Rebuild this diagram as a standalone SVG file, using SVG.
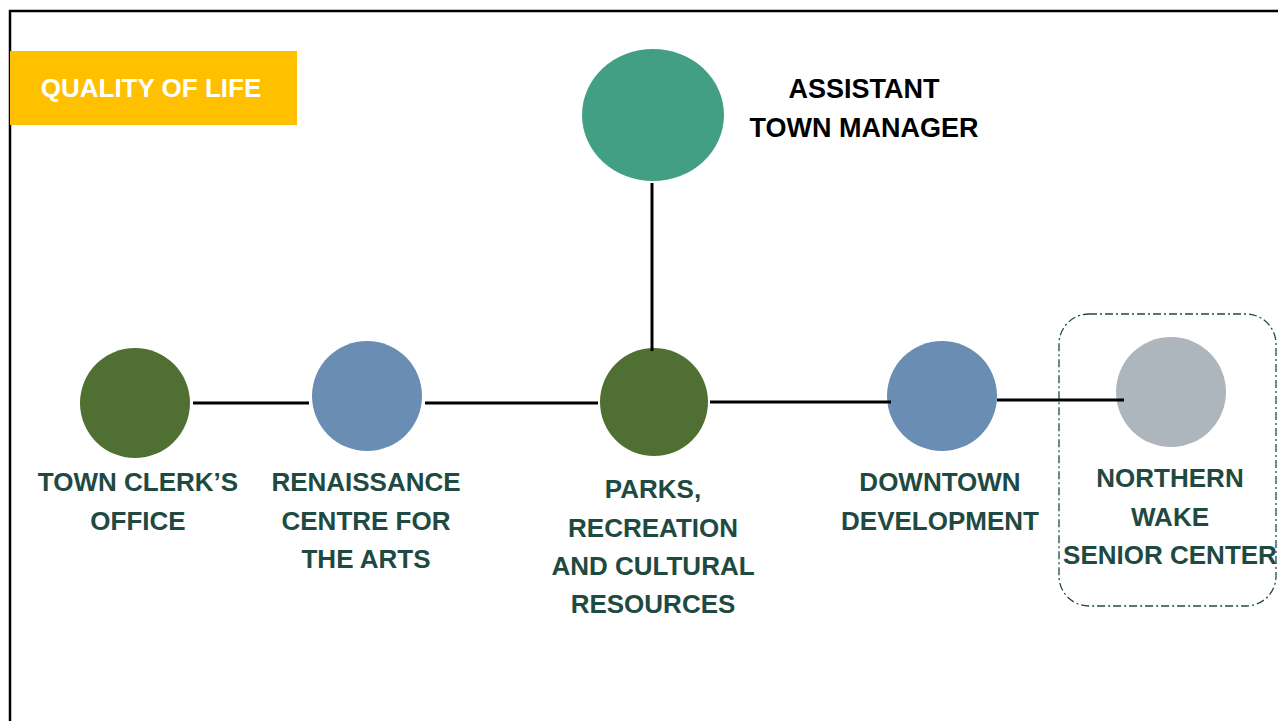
<svg xmlns="http://www.w3.org/2000/svg" width="1278" height="721" viewBox="0 0 1278 721">
<style>
.lbl{font-family:"Liberation Sans",Arial,sans-serif;font-weight:bold;font-size:26px;fill:#1F4A42;text-anchor:middle}
.conn{stroke:#000;stroke-width:3;fill:none}
</style>
<rect width="1278" height="721" fill="#fff"/>
<path d="M10 721 V11 H1278" fill="none" stroke="#000" stroke-width="2.5"/>
<g id="title">
<rect x="10" y="51" width="287" height="74" fill="#FFC000"/>
<text x="151" y="97" class="lbl" style="fill:#fff">QUALITY OF LIFE</text>
</g>
<g id="assistant">
<ellipse cx="653" cy="115" rx="71" ry="66" fill="#439F84"/>
<text class="lbl" style="fill:#000;font-size:27px"><tspan x="864" y="98">ASSISTANT</tspan><tspan x="864" y="137">TOWN MANAGER</tspan></text>
</g>
<g id="clerk">
<circle cx="135" cy="403" r="55" fill="#507033"/>
<text class="lbl"><tspan x="138" y="491">TOWN CLERK’S</tspan><tspan x="138" y="530">OFFICE</tspan></text>
</g>
<g id="renaissance">
<circle cx="367" cy="396" r="55" fill="#6A8DB3"/>
<text class="lbl"><tspan x="366" y="491">RENAISSANCE</tspan><tspan x="366" y="530">CENTRE FOR</tspan><tspan x="366" y="568">THE ARTS</tspan></text>
</g>
<g id="parks">
<circle cx="654" cy="402" r="54" fill="#507033"/>
<text class="lbl"><tspan x="653" y="498">PARKS,</tspan><tspan x="653" y="537">RECREATION</tspan><tspan x="653" y="575">AND CULTURAL</tspan><tspan x="653" y="613">RESOURCES</tspan></text>
</g>
<g id="downtown">
<circle cx="942" cy="396" r="55" fill="#6A8DB3"/>
<text class="lbl"><tspan x="940" y="491">DOWNTOWN</tspan><tspan x="940" y="530">DEVELOPMENT</tspan></text>
</g>
<g id="senior">
<rect x="1059" y="314" width="217" height="292" rx="30" fill="none" stroke="#1F4A42" stroke-width="1.3" stroke-dasharray="8 3 2 3"/>
<circle cx="1171" cy="392" r="55" fill="#ADB5BD"/>
<text class="lbl"><tspan x="1170" y="487">NORTHERN</tspan><tspan x="1170" y="526">WAKE</tspan><tspan x="1170" y="564">SENIOR CENTER</tspan></text>
</g>
<g id="connectors">
<line class="conn" x1="193" y1="403" x2="309" y2="403"/>
<line class="conn" x1="425" y1="403" x2="598" y2="403"/>
<line class="conn" x1="710" y1="402" x2="891" y2="402"/>
<line class="conn" x1="997" y1="400" x2="1124" y2="400"/>
<line class="conn" x1="652" y1="183" x2="652" y2="351"/>
</g>
</svg>
